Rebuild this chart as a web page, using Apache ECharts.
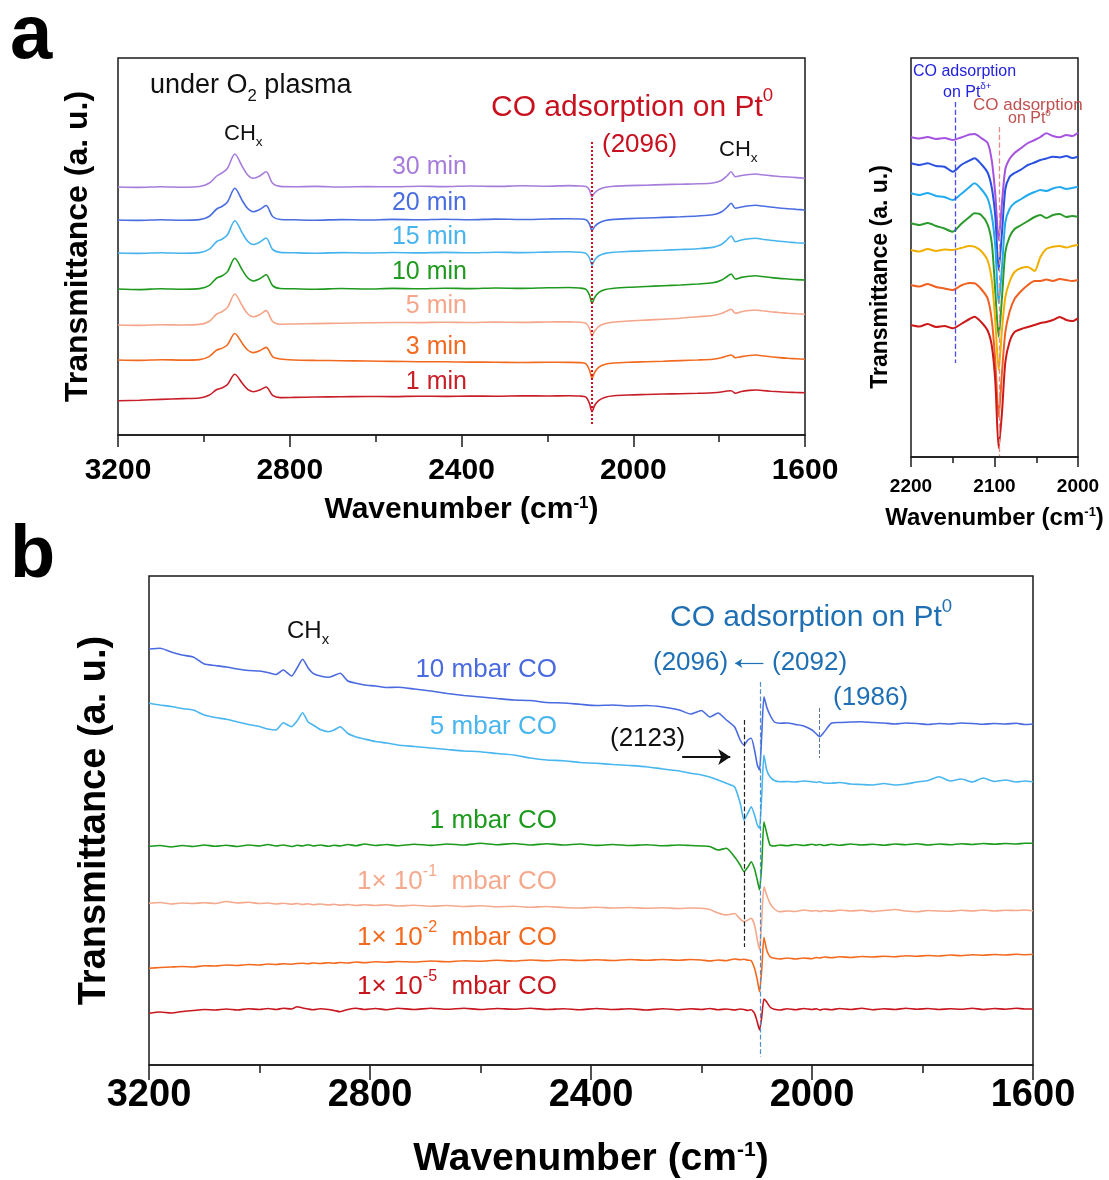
<!DOCTYPE html>
<html>
<head>
<meta charset="utf-8">
<script src="https://cdn.jsdelivr.net/npm/echarts@6/dist/echarts.min.js"></script>
<style>
  * { margin: 0; padding: 0; }
  body { background: #fff; }
  #main { width: 1109px; height: 1180px; }
</style>
</head>
<body>
<div id="main"></div>
<script>
// ---------- panel a: spectra under O2 plasma (offset, a.u.) ----------
var wnA = [3200,3150,3100,3050,3010,2988,2970,2958,2945,2928,2910,2898,2885,2870,2855,2840,2822,
  2790,2740,2680,2620,2560,2500,2440,2380,2320,2260,2200,2150,2125,2110,2102,2096,2090,2080,2065,2045,
  2010,1970,1930,1890,1850,1815,1795,1782,1772,1762,1748,1730,1715,1700,1680,1660,1640,1620,1600];
var a30 = [248,247.6,248.3,247.8,248.5,251.7,259,262,266.7,281,268,260,256.7,259,263.3,251.7,248.6,
  248.2,248.6,248,248.4,248.2,248.8,248.4,249,248.6,249.2,248.8,249.4,249,248.5,245,238.3,242,245.5,247.8,248.8,
  249.4,249.8,250.4,250.8,251.2,252,254.5,259,263.3,258.3,259.5,260.5,261,260.2,259.4,258.5,258,257.4,256.7];
var a20 = [215,214.6,215.3,214.8,215.4,218.5,226,228.5,233,246.7,234,226.5,223.3,225.5,229.5,218.5,215.5,
  215.2,214.8,215.4,215,215.6,215.2,215.8,215.3,215.9,215.5,216,216.3,216,215.2,211,204.3,208.5,212,214.5,215.6,
  216.4,217,217.6,218.2,219,220.2,223,227.5,231.7,226.7,228,229.2,229.7,229,228,227,226.3,225.6,225];
var a15 = [182,181.6,182.3,181.8,182.4,185.6,193.5,195.7,200.3,214.3,201.6,193.8,190.5,192.8,197,185.6,182.6,
  182.2,181.8,182.4,182,182.5,182.1,182.6,182.2,182.8,182.4,182.9,183.2,182.8,181.6,177,170,175,179.2,181.6,182.8,
  183.6,184.2,184.8,185.5,186.3,187.6,190.5,195,199,193.3,195,196.3,196.7,195.8,194.8,193.8,193,192.3,191.7];
var a10 = [146,145.4,146.3,145.8,146.4,149.4,157,159,163.4,176.7,164.6,157.2,154,156.2,160.2,149.4,146.5,
  146.2,145.8,146.5,146,146.6,146.2,146.8,146.4,147,146.6,147.2,147.5,147,145.6,140,131.7,137.5,142.6,145.5,146.8,
  147.8,148.5,149.2,150,151,152.2,154.8,158.3,161,156,157.6,158.8,159.3,158.5,157.5,156.6,156,155.4,155];
var a5 = [110,109.6,110.3,110,110.6,113.5,121,123.2,127.6,141,128.8,121.3,118.2,120.3,124.4,113.5,110.8,
  111,111.4,111.8,112.2,112.5,112.4,112.8,112.5,112.9,112.6,113,113.2,112.8,111.6,106.5,99,104,108.6,111.4,113,
  114,114.9,115.8,116.8,118.3,119.5,121.5,124,125.7,121.7,123.3,124.5,125,124.2,123.3,122.5,121.8,121.2,120.7];
var a3 = [75,74.6,75.3,74.9,75.4,78.4,85,86.6,90.3,101.5,91.3,85,82.4,84.2,87.6,78.4,76,
  75,74.6,74.3,74,73.6,73.3,73.2,72.9,72.8,72.5,72.8,72.6,72.4,71.2,65,56.7,62.5,67.8,70.8,72,
  72.8,73.3,73.8,74.4,75,75.8,77.3,79,80,77.3,78.4,79.5,80,79.3,78.3,77.4,76.7,76.2,75.7];
var a1 = [34.3,34.8,35.6,36.4,37,39.7,45.5,47,50.5,60.7,51.4,45.6,43.3,44.9,48,39.7,37.4,
  37.6,38,38.2,38.5,38.4,38.8,38.6,39,38.8,39.2,39,39.3,39,37.8,31.5,23.3,29.5,34.6,37.8,39.2,
  40,40.5,41,41.3,41.7,42.3,43,44,44.3,41.7,43.5,44.6,45,44.5,43.8,43.2,42.8,42.5,42.3];
var timeLabels = ['30 min','20 min','15 min','10 min','5 min','3 min','1 min'];

// ---------- panel a inset: zoom on 2200-2000 ----------
var wnI = [2200,2190,2180,2170,2160,2150,2140,2130,2124,2116,2108,2103,2099,2095,2091,2087,2082,2076,
  2068,2060,2052,2045,2038,2030,2022,2014,2007,2000];
var i30 = [319.7,318.5,320,318,319,317,319.5,322.5,323,319,313.7,295,262,217,255,288,298,304,309,314,317,320,323.7,321,319.7,322,321,324.3];
var i20 = [293.7,292,293.7,291,290.3,285.3,292,296.5,298.7,293,284,268,240,187,225,268,280,284,287.5,292,294.5,297,298.5,300.3,299.5,301,299,300.3];
var i15 = [263.7,262,264,261,260,257,263,270,273.7,268,258,240,210,153.7,190,235,248,254,258,262,265,267,266,268.5,270,268,269,270.3];
var i10 = [233.7,232,234,231,228.5,225.3,233,240,243.7,242,232,212,165,120.3,160,205,220,228,232,236,240,242,239,242,243,240,241,240.3];
var i5 = [207,205.5,208,206,207.5,207,209,211,210.3,206,196,175,135,87,128,160,175,185,189,190,186,200,208,210.3,211,209.5,211,212];
var i3 = [172,170.5,173,170,168.5,167,171.5,174,173.7,168,158,135,95,40.3,85,125,145,158,166,172,176,176,177.5,176,178,177,176,177];
var i1 = [132,130.5,133,130,131,128.7,133,138,140.3,135,126,110,75,9,45,95,115,125,128,130,132,134,135,137,140,137,136,138.7];

// ---------- panel b: CO pressure series ----------
var wnB = [3200,3180,3160,3140,3120,3100,3080,3060,3040,3020,3000,2985,2970,2957,2942,2932,2922,2912,2903,2890,
  2875,2865,2854,2840,2825,2810,2790,2770,2750,2720,2690,2660,2630,2600,2570,2540,2510,2480,2450,2420,
  2390,2360,2330,2300,2270,2240,2220,2200,2185,2170,2155,2140,2130,2123,2116,2110,2104,2099,2095,2091,
  2087,2082,2076,2068,2058,2045,2030,2015,2000,1992,1986,1978,1965,1950,1930,1910,1890,1870,1850,1830,
  1810,1790,1770,1750,1730,1710,1690,1670,1650,1630,1615,1600];
var b10 = [416,416.7,413,410,408,401,399.5,398,396,394.5,394,392.5,390.5,395,389,397,405.7,397,391.7,389,
  387.7,389.5,391.7,384,381.7,380,379,377.5,377.7,376,374,371.5,369.5,368,366.5,365,364.5,362.5,362,360.7,
  359.5,360,359,359.5,358,355,351,354.5,348,352,345,338,325,320,325,326.7,315,300,295,330,
  368.3,358,350,343,341.7,342,340.5,339,335,331,328.3,333,341.7,342.5,343,343.3,342.5,342,341,342,
  341.5,340.5,341.5,341,342,341.5,340.7,341.5,341,341.7,340.5,341];
var b5 = [361.7,360,358.5,356.5,355,350,347.5,345.7,343,340.5,338.5,336,335,342.3,338.3,344,352.3,343,340,335.5,
  333.3,335,338.3,331.5,328,326,323.5,322,320,318.5,317,315.5,314,313.3,311.5,310,307,305,304.3,302.5,
  301.7,300.5,299.5,298.3,296,294,291.7,290,288,285,281.7,278,262,245,252,258.3,250,240,236.7,270,
  310,295,288.3,284.5,283.3,283.5,283,284,283.3,282.5,283.3,282,281.7,282.5,281,280.5,280,281.5,280,281,
  283,284.5,288.3,284,286,283,287,283.5,285,283,284,283.3];
var b1 = [218.5,219.5,218,219.5,218.5,220,218.8,219.8,218.5,220,219,220.5,219,220,218.5,219.7,219,220.3,219,220,
  218.7,219.8,219,220.5,219.3,221,219.5,220.5,219.2,220.8,219.6,221,220,221.7,220.3,221.5,220,221.2,220,221,
  219.6,220.5,219.5,220.3,219.3,220,219.5,219,218.5,215,216.7,208,200,193.3,198,203.3,196,185,175,200,
  243.3,232,220,219,220,219.3,220.5,219.5,220.8,219.8,220.5,219.5,220.8,219.7,221,220,220.8,219.8,221,220.3,
  221.2,220,221,220.2,221.3,220.5,221.5,220.7,221.5,221,221.8,221.7];
var bE1 = [161.7,162.5,161,162,161.5,162.3,161.5,163.5,162,162.7,161.5,162,161,161.8,160.8,161.5,160.5,161.3,160.3,161,
  160,160.8,159.8,160.5,159.5,160.3,159.5,160.3,159,159.8,158.8,159.5,158.5,159.3,158.3,158.8,157.8,158.5,157.5,157,
  157.8,157,157.5,156.8,157.3,156.5,157,156.7,155.5,152,150,151.5,146,143.3,145,146.7,140,125,115,145,
  178.3,170,161.7,156,153.3,154,153.5,155,154,154.5,153.5,154.5,153.8,155,154,154.8,153.5,154.5,155.5,154,
  153.3,154.5,154,153.8,154.8,154,155,154,154.8,154.5,155,154.3];
var bE2 = [96.7,97.5,98,98.5,98,99.3,99,100,99.5,100.5,100,101,100.5,101.3,100.8,101.5,101.8,101.2,102,101.5,
  102.3,101.8,102.5,102,103,102.3,103.3,102.7,103.5,103,104,103.3,104.3,103.8,104.7,104,105,104.3,105.2,104.5,
  105.3,104.5,105.5,104.8,105.5,104.8,105.5,105,104,105,104.3,106,105.3,105.7,104.8,104.3,96.7,85,73.3,95,
  127.7,115,108.3,106.7,106,107,106,107,106.3,107.5,107,108,107.3,108.3,107.5,108.5,108,108.8,108.3,109.3,
  108.7,109.5,109,110,109.3,110.2,109.8,110.5,110,110.8,110.3,110.7];
var bE5 = [51.7,53,52,53.5,54.5,55.5,55,56,55,56.3,55.5,56.5,55.5,56.8,56,58.3,57,56,55.3,56.3,
  55.5,54.5,53.3,55.5,56.7,55.5,56.5,55.3,56.7,55.5,56.8,55.7,56.8,55.5,56.5,55.8,56.8,55.5,56.3,55.3,
  56.5,55.5,56.2,55,56.3,55.3,56.2,55.5,56.5,55.2,56,55,56,55.5,54.5,55.3,51.7,43,35,48,
  66,63,58,55.7,55,56.3,55.3,56.5,55.5,56.3,55,56,55.2,56.5,55.5,56.7,55.3,56.3,55.5,56.8,
  55.8,56.5,55.5,56.3,55.7,56.8,55.5,56.5,55.8,56.7,56,56];

var bold = "'Liberation Sans', Arial, sans-serif";
var reg = "'Liberation Sans', Arial, sans-serif";

var colA = ['#a77ddb', '#4a6ee0', '#48b4ee', '#1f9a1f', '#f4a58a', '#f26a20', '#c81e28'];
var colI = ['#a653df', '#2a50e0', '#22aaee', '#2a9a2a', '#f0b000', '#f06020', '#cc1818'];
var colB = ['#4a6ae0', '#49b6ef', '#1c9a1c', '#f5a98c', '#f36a1e', '#c8161e'];

function pair(wn, ys) { return wn.map(function (w, i) { return [w, ys[i]]; }); }

function spec(grid, wn, ys, color, width, extra, smooth) {
  var s = {
    type: 'line', xAxisIndex: grid, yAxisIndex: grid, data: pair(wn, ys),
    showSymbol: false, smooth: smooth, silent: true,
    lineStyle: { color: color, width: width }
  };
  if (extra) s.markLine = extra;
  return s;
}

function vline(w, y1, y2, color, type, width) {
  return [{ coord: [w, y1], lineStyle: { color: color, type: type, width: width } }, { coord: [w, y2] }];
}
function arrow(w1, w2, y, color, width) {
  return [{ coord: [w1, y], symbol: 'none', lineStyle: { color: color, type: 'solid', width: width } },
          { coord: [w2, y], symbol: 'arrow' }];
}
function ml(data, size) {
  return { silent: true, symbol: ['none', 'none'], symbolSize: size || 8, label: { show: false },
           animation: false, data: data };
}

function supRich(fs) {
  return { sup: { fontSize: Math.round(fs * 0.55), fontFamily: bold, fontWeight: 'bold', verticalAlign: 'top', color: '#000' } };
}

function xAx(grid, min, max, interval, fs, nfs, margin, gap, tick, mtick) {
  return {
    gridIndex: grid, type: 'value', inverse: true, min: min, max: max, interval: interval,
    position: 'bottom',
    axisLine: { show: true, lineStyle: { color: '#1a1a1a', width: 1.5 } },
    axisTick: { show: true, inside: false, length: tick, lineStyle: { color: '#1a1a1a', width: 1.5 } },
    minorTick: { show: true, splitNumber: 2, length: mtick, lineStyle: { color: '#1a1a1a', width: 1.5 } },
    splitLine: { show: false },
    axisLabel: { fontFamily: bold, fontWeight: 'bold', fontSize: fs, color: '#000', margin: margin,
                 formatter: function (v) { return String(v); } },
    name: 'Wavenumber (cm{sup|-1})', nameLocation: 'middle', nameGap: gap,
    nameTextStyle: { fontFamily: bold, fontWeight: 'bold', fontSize: nfs, color: '#000', rich: supRich(nfs) }
  };
}
function yAx(grid, max, nfs, gap, name) {
  return {
    gridIndex: grid, type: 'value', min: 0, max: max,
    axisLine: { show: false }, axisTick: { show: false }, axisLabel: { show: false }, splitLine: { show: false },
    name: name, nameLocation: 'middle', nameGap: gap, nameRotate: 90,
    nameTextStyle: { fontFamily: bold, fontWeight: 'bold', fontSize: nfs, color: '#000' }
  };
}

function txt(x, y, text, size, color, align) {
  var r = {
    n: { fontSize: size, fontFamily: reg, fill: color, lineHeight: size * 1.4, verticalAlign: 'middle' },
    sub: { fontSize: size * 0.62, fontFamily: reg, fill: color, verticalAlign: 'bottom' },
    sup: { fontSize: size * 0.62, fontFamily: reg, fill: color, verticalAlign: 'top' }
  };
  return {
    type: 'text', x: x, y: y, silent: true,
    style: { text: text, fill: color, font: size + 'px ' + reg, align: align || 'left',
             verticalAlign: 'middle', rich: r }
  };
}

var series = [];
// panel a
[a30, a20, a15, a10, a5, a3, a1].forEach(function (ys, k) {
  var extra = null;
  if (k === 6) extra = ml([vline(2096, 293, 10, '#d01020', 'dotted', 2)]);
  series.push(spec(0, wnA, ys, colA[k], 1.6, extra, 0.3));
});
// inset
[i30, i20, i15, i10, i5, i3, i1].forEach(function (ys, k) {
  var extra = null;
  if (k === 1) extra = ml([vline(2147, 355, 94, '#4a4af0', 'dashed', 1.3)]);
  if (k === 6) extra = ml([vline(2094, 330, 1, '#e08c88', 'dashed', 1.3)]);
  series.push(spec(1, wnI, ys, colI[k], 2, extra, 0.25));
});
// panel b
[b10, b5, b1, bE1, bE2, bE5].forEach(function (ys, k) {
  var extra = null;
  if (k === 0) extra = ml([vline(2094, 383, 8, '#4a8fd0', 'dashed', 1.2), arrow(2088, 2139, 401.7, '#1f6fb4', 1.2)], 7);
  if (k === 1) extra = ml([vline(1986, 357, 307, '#5a7aa0', 'dashed', 1)]);
  if (k === 2) extra = ml([vline(2123, 345, 118, '#222', 'dashed', 1.2), arrow(2235, 2148, 308, '#111', 2)], 12);
  series.push(spec(2, wnB, ys, colB[k], 1.6, extra, 0.2));
});

var tA = [167.5, 203, 237, 271.7, 306.5, 346.7, 381.7];
var tB = [670, 726.7, 820.5, 882, 937.5, 986.5];
var bLabels = ['10 mbar CO', '5 mbar CO', '1 mbar CO',
  '{n|1\u00d7 10}{sup|-1}{n|  mbar CO}', '{n|1\u00d7 10}{sup|-2}{n|  mbar CO}', '{n|1\u00d7 10}{sup|-5}{n|  mbar CO}'];

var graphic = [
  { type: 'text', x: 10, y: 37, silent: true, style: { text: 'a', font: 'bold 76px ' + reg, fill: '#000', verticalAlign: 'middle' } },
  { type: 'text', x: 10, y: 557, silent: true, style: { text: 'b', font: 'bold 74px ' + reg, fill: '#000', verticalAlign: 'middle' } },
  { type: 'text', x: 881, y: 277, rotation: Math.PI / 2, silent: true,
    style: { text: 'Transmittance (a. u.)', font: 'bold 23px ' + bold, fill: '#000', align: 'center', verticalAlign: 'middle' } },
  txt(150, 86, '{n|under O}{sub|2}{n| plasma}', 27, '#111'),
  txt(224, 134, '{n|CH}{sub|x}', 22, '#111'),
  txt(491, 107.5, '{n|CO adsorption on Pt}{sup|0}', 30, '#c8101e'),
  txt(602, 145, '(2096)', 26, '#c8101e'),
  txt(719, 150, '{n|CH}{sub|x}', 22, '#111'),
  txt(913, 71.5, 'CO adsorption', 16, '#2222dd'),
  txt(943, 92.5, '{n|on Pt}{sup|\u03b4+}', 16, '#2222dd'),
  txt(973, 105, 'CO adsorption', 17, '#c0504d'),
  txt(1008, 119, '{n|on Pt}{sup|0}', 16, '#c0504d'),
  txt(287, 631, '{n|CH}{sub|x}', 24, '#111'),
  txt(670, 618, '{n|CO adsorption on Pt}{sup|0}', 30, '#1f6fb4'),
  txt(653, 663, '(2096)', 26, '#1f6fb4'),
  txt(772, 663, '(2092)', 26, '#1f6fb4'),
  txt(833, 698, '(1986)', 26, '#1f6fb4'),
  txt(610, 739, '(2123)', 26, '#111')
];
timeLabels.forEach(function (t, k) { graphic.push(txt(467, tA[k], t, 25, colA[k], 'right')); });
bLabels.forEach(function (t, k) { graphic.push(txt(557, tB[k], t, 26, colB[k], 'right')); });

var option = {
  animation: false,
  backgroundColor: '#fff',
  grid: [
    { left: 118, top: 58, width: 687, height: 377, show: true, borderColor: '#1a1a1a', borderWidth: 1.5 },
    { left: 911, top: 58, width: 167, height: 399, show: true, borderColor: '#1a1a1a', borderWidth: 1.5 },
    { left: 149, top: 576, width: 884, height: 489, show: true, borderColor: '#1a1a1a', borderWidth: 1.5 }
  ],
  xAxis: [
    xAx(0, 1600, 3200, 400, 30, 30, 21, 60, 12, 7),
    xAx(1, 2000, 2200, 100, 19, 24, 20, 49, 10, 6),
    xAx(2, 1600, 3200, 400, 38, 39, 12, 75, 15, 8)
  ],
  yAxis: [
    yAx(0, 377, 32, 24, 'Transmittance (a. u.)'),
    yAx(1, 399, 23, 18, ''),
    yAx(2, 489, 38, 35, 'Transmittance (a. u.)')
  ],
  series: series,
  graphic: graphic
};

var chart = echarts.init(document.getElementById('main'), null, { renderer: 'canvas' });
chart.setOption(option);
</script>
</body>
</html>
